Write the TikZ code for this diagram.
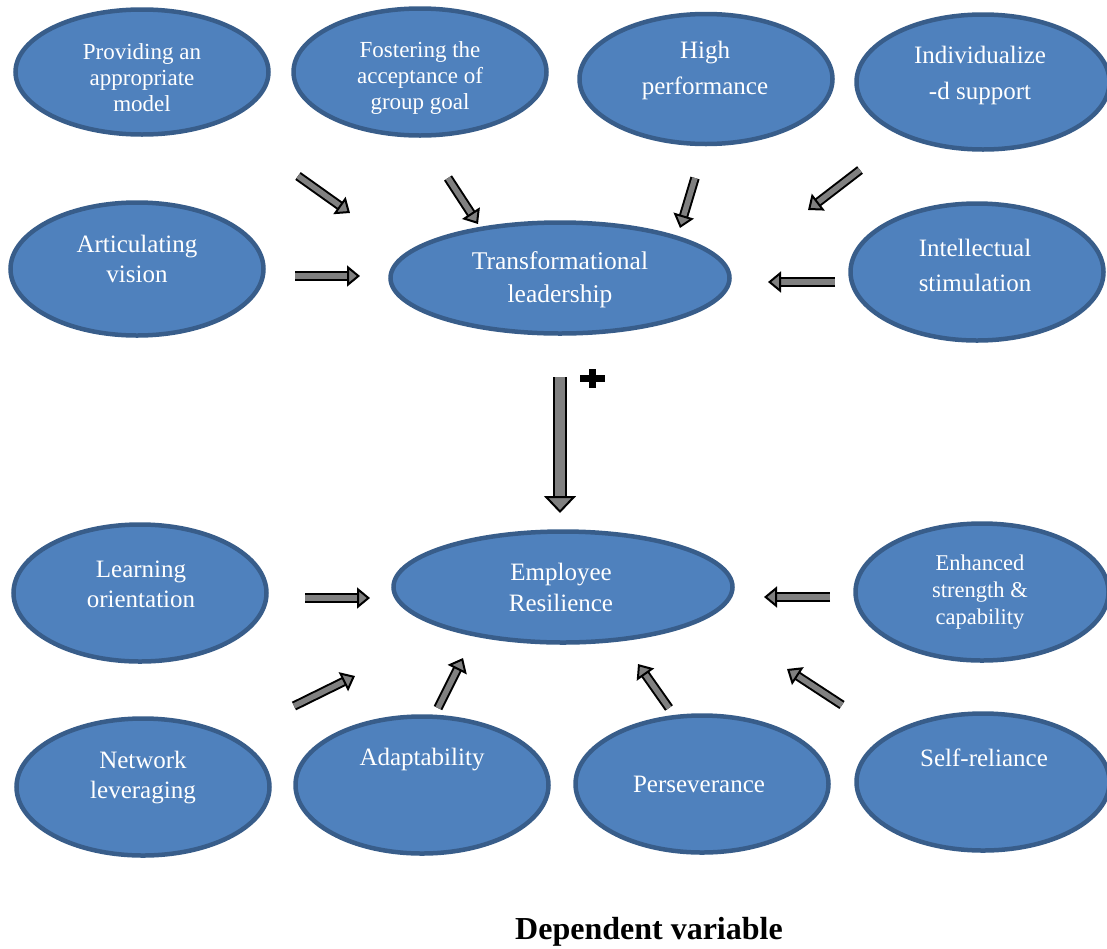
\documentclass[tikz,border=0pt]{standalone}
\usepackage{fontspec}
\setmainfont{Liberation Serif}
\usepackage{tikz}
\usetikzlibrary{shapes.geometric,arrows.meta,positioning}
\definecolor{ovalfill}{HTML}{4F81BD}
\definecolor{ovalline}{HTML}{385D8A}
\definecolor{arrowgray}{HTML}{808080}

\begin{document}
\begin{tikzpicture}[x=1pt,y=-1pt,
			oval/.style={ellipse,draw=ovalline,fill=ovalfill,line width=4.5pt,minimum width=253pt,minimum height=137pt,inner sep=0pt},
			coreoval/.style={oval,minimum width=339pt,minimum height=111pt},
			lbl/.style={text=white,align=center,inner sep=0pt,font=\fontsize{25}{31}\selectfont},
			smalllbl/.style={lbl,font=\fontsize{23}{26}\selectfont},
			feeds/.style={draw=black,line width=2pt,double=arrowgray,double distance=5.5pt,
				-{Triangle[length=13pt,width=21pt,line width=2pt,fill=arrowgray]}},
			bigfeeds/.style={draw=black,line width=2pt,double=arrowgray,double distance=10pt,
				-{Triangle[length=17pt,width=32pt,line width=2pt,fill=arrowgray]}}
		]
		\useasboundingbox (0,0) rectangle (1107,948);

		% independent variables (top)
		\node[oval,minimum height=125pt] (pam) at (142,72) {};
		\node[oval,minimum height=127pt] (fag) at (420,72) {};
		\node[oval,minimum height=130pt] (hpe) at (706,79) {};
		\node[oval,minimum height=135pt] (ids) at (983,82) {};
		\node[oval,minimum height=133pt] (avi) at (137,269) {};
		\node[oval] (ist) at (977,272) {};
		\node[coreoval] (tfl) at (560,278) {};

		% dependent variable (bottom)
		\node[coreoval] (ers) at (563,587) {};
		\node[oval] (lor) at (140,593) {};
		\node[oval] (esc) at (982,592) {};
		\node[oval] (nle) at (143,787) {};
		\node[oval] (ada) at (422,785) {};
		\node[oval] (per) at (702,784) {};
		\node[oval] (sre) at (983,782) {};

		\node[smalllbl] (pamtxt) at (142,78) {Providing an\\appropriate\\model};
		\node[smalllbl] (fagtxt) at (420,78) {Fostering the\\acceptance of\\group goal};
		\node[lbl,font=\fontsize{25}{36}\selectfont] (hpetxt) at (705,70) {High\\performance};
		\node[lbl,font=\fontsize{25}{36}\selectfont] (idstxt) at (980,75) {Individualize\\-d support};
		\node[lbl,font=\fontsize{25}{30}\selectfont] (avitxt) at (137,259) {Articulating\\vision};
		\node[lbl,font=\fontsize{25.5}{33}\selectfont] (tfltxt) at (560,280) {Transformational\\leadership};
		\node[lbl,font=\fontsize{25}{35}\selectfont] (isttxt) at (975,265) {Intellectual\\stimulation};
		\node[lbl,font=\fontsize{25}{30}\selectfont] (lortxt) at (141,584) {Learning\\orientation};
		\node[lbl] (erstxt) at (561,587) {Employee\\Resilience};
		\node[lbl,font=\fontsize{22.5}{27}\selectfont] (esctxt) at (980,592) {Enhanced\\strength \&\\capability};
		\node[lbl,font=\fontsize{25}{30}\selectfont] (nletxt) at (143,778) {Network\\leveraging};
		\node[lbl] (adatxt) at (422,760) {Adaptability};
		\node[lbl] (pertxt) at (699,784) {Perseverance};
		\node[lbl] (sretxt) at (984,758) {Self-reliance};

		% arrow ends
		\coordinate (pamT) at (298,176);  \coordinate (pamH) at (350,213);
		\coordinate (fagT) at (448,178);  \coordinate (fagH) at (478,224);
		\coordinate (hpeT) at (695,178);  \coordinate (hpeH) at (680,228);
		\coordinate (idsT) at (860,170);  \coordinate (idsH) at (808,210);
		\coordinate (aviT) at (295,276);  \coordinate (aviH) at (360,276);
		\coordinate (istT) at (835,282);  \coordinate (istH) at (768,282);
		\coordinate (tflT) at (560,377);  \coordinate (tflH) at (560,513);
		\coordinate (lorT) at (305,598);  \coordinate (lorH) at (370,598);
		\coordinate (escT) at (830,597);  \coordinate (escH) at (764,597);
		\coordinate (nleT) at (294,706);  \coordinate (nleH) at (355,676);
		\coordinate (adaT) at (438,708);  \coordinate (adaH) at (463,658);
		\coordinate (perT) at (669,708);  \coordinate (perH) at (638,664);
		\coordinate (sreT) at (842,705);  \coordinate (sreH) at (787,669);

		\draw[feeds] (pamT) -- (pamH);
		\draw[feeds] (fagT) -- (fagH);
		\draw[feeds] (hpeT) -- (hpeH);
		\draw[feeds] (idsT) -- (idsH);
		\draw[feeds] (aviT) -- (aviH);
		\draw[feeds] (istT) -- (istH);
		\draw[bigfeeds] (tflT) -- (tflH);
		\draw[feeds] (lorT) -- (lorH);
		\draw[feeds] (escT) -- (escH);
		\draw[feeds] (nleT) -- (nleH);
		\draw[feeds] (adaT) -- (adaH);
		\draw[feeds] (perT) -- (perH);
		\draw[feeds] (sreT) -- (sreH);

		% plus sign
		\fill (580,375) rectangle (605,382);
		\fill (589,369) rectangle (596,388);

		\node[font=\bfseries\fontsize{32}{36}\selectfont] (depvar) at (649,932) {Dependent variable};

	\end{tikzpicture}
\end{document}
